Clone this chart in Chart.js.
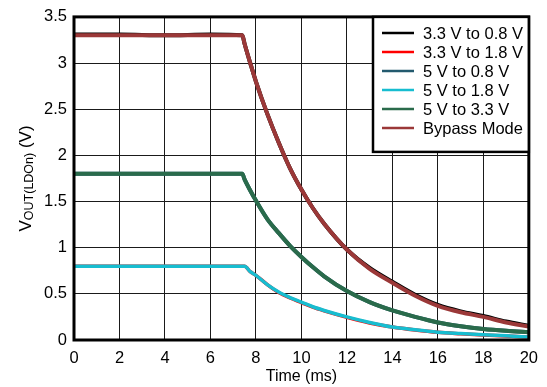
<!DOCTYPE html>
<html>
<head>
<meta charset="utf-8">
<script src="https://cdn.jsdelivr.net/npm/chart.js@4"></script>
<style>
  body { margin: 0; background: #fff; }
  #wrap { width: 547px; height: 387px; }
</style>
</head>
<body>
<div id="wrap"><canvas id="chart" width="547" height="387"></canvas></div>
<script>
// time axis (ms)
const timeMs = [0, 2, 4, 6, 7.4, 7.5, 7.75, 8, 8.5, 9, 9.5, 10, 10.5, 11, 12, 13, 14, 15, 16, 17, 18, 19, 20];

// VOUT readings (V), one list per legend entry
const v33to08 = [3.31, 3.31, 3.3, 3.31, 3.3, 3.21, 3.0, 2.8, 2.45, 2.14, 1.86, 1.63, 1.43, 1.26, 0.98, 0.78, 0.63, 0.49, 0.38, 0.31, 0.26, 0.2, 0.155];
const v33to18 = [0.8, 0.8, 0.8, 0.8, 0.8, 0.8, 0.74, 0.7, 0.6, 0.515, 0.455, 0.405, 0.355, 0.315, 0.245, 0.185, 0.14, 0.108, 0.083, 0.068, 0.055, 0.043, 0.03];
const v5to08 = [1.8, 1.8, 1.8, 1.8, 1.8, 1.74, 1.62, 1.51, 1.31, 1.16, 1.02, 0.9, 0.79, 0.69, 0.53, 0.41, 0.32, 0.25, 0.19, 0.15, 0.12, 0.1, 0.085];
const v5to18 = [0.8, 0.8, 0.8, 0.8, 0.8, 0.8, 0.74, 0.7, 0.6, 0.52, 0.46, 0.41, 0.36, 0.32, 0.25, 0.19, 0.14, 0.11, 0.085, 0.07, 0.057, 0.045, 0.032];
const v5to33 = [1.8, 1.8, 1.8, 1.8, 1.8, 1.74, 1.62, 1.51, 1.31, 1.16, 1.02, 0.9, 0.79, 0.69, 0.53, 0.41, 0.32, 0.25, 0.19, 0.15, 0.12, 0.1, 0.085];
const vBypass = [3.3, 3.3, 3.3, 3.3, 3.3, 3.21, 3.0, 2.8, 2.45, 2.14, 1.86, 1.63, 1.43, 1.26, 0.98, 0.77, 0.62, 0.48, 0.37, 0.3, 0.25, 0.19, 0.145];

const seriesNames = ['3.3 V to 0.8 V', '3.3 V to 1.8 V', '5 V to 0.8 V', '5 V to 1.8 V', '5 V to 3.3 V', 'Bypass Mode'];
const seriesData = [v33to08, v33to18, v5to08, v5to18, v5to33, vBypass];
const seriesColors = ['#000000', '#ff0000', '#235a6e', '#17bdd0', '#2a6b4b', '#9b3838'];
const seriesWidths = [4, 3.5, 4, 3.5, 4, 4];
const seriesOrder = [2, 2, 2, 1, 1, 1]; // higher is drawn below

const xTicks = [0, 2, 4, 6, 8, 10, 12, 14, 16, 18, 20];
const yTicks = [0, 0.5, 1, 1.5, 2, 2.5, 3, 3.5];

const FONT = 'Arial, "Liberation Sans", sans-serif';

// frame, legend box and axis titles
const decorations = {
  id: 'decorations',
  afterDatasetsDraw(chart) {
    const ctx = chart.ctx;
    const a = chart.chartArea;
    ctx.save();

    ctx.strokeStyle = '#000';
    ctx.lineWidth = 3;
    ctx.strokeRect(a.left, a.top, a.right - a.left, a.bottom - a.top);

    // legend box in the top right corner
    const lx = 373, ly = a.top, lw = a.right - 373, lh = 135;
    ctx.fillStyle = '#fff';
    ctx.fillRect(lx, ly, lw, lh);
    ctx.lineWidth = 2.5;
    ctx.strokeRect(lx, ly, lw, lh);

    ctx.font = '16.5px ' + FONT;
    ctx.textBaseline = 'middle';
    ctx.textAlign = 'left';
    seriesNames.forEach((name, i) => {
      const y = 33 + i * 19;
      ctx.strokeStyle = seriesColors[i];
      ctx.lineWidth = 2.5;
      ctx.beginPath();
      ctx.moveTo(382, y);
      ctx.lineTo(414, y);
      ctx.stroke();
      ctx.fillStyle = '#000';
      ctx.fillText(name, 423, y + 1);
    });

    // x title
    ctx.font = '16px ' + FONT;
    ctx.textAlign = 'center';
    ctx.textBaseline = 'middle';
    ctx.fillText('Time (ms)', (a.left + a.right) / 2, 377);

    // y title with subscript
    ctx.translate(31, (a.top + a.bottom) / 2);
    ctx.rotate(-Math.PI / 2);
    ctx.textAlign = 'left';
    ctx.textBaseline = 'alphabetic';
    ctx.font = '17px ' + FONT;
    const wV = ctx.measureText('V').width;
    const wUnit = ctx.measureText(' (V)').width;
    ctx.font = '12.5px ' + FONT;
    const wSub = ctx.measureText('OUT(LDOn)').width;
    let x = -(wV + wSub + wUnit) / 2;
    ctx.font = '17px ' + FONT;
    ctx.fillText('V', x, 0);
    x += wV;
    ctx.font = '12.5px ' + FONT;
    ctx.fillText('OUT(LDOn)', x, 2);
    x += wSub;
    ctx.font = '17px ' + FONT;
    ctx.fillText(' (V)', x, 0);

    ctx.restore();
  }
};

const datasets = seriesNames.map((name, i) => ({
  label: name,
  data: timeMs.map((t, j) => ({ x: t, y: seriesData[i][j] })),
  borderColor: seriesColors[i],
  backgroundColor: seriesColors[i],
  borderWidth: seriesWidths[i],
  pointRadius: 0,
  cubicInterpolationMode: 'monotone',
  order: seriesOrder[i]
}));

new Chart(document.getElementById('chart'), {
  type: 'line',
  data: { datasets },
  options: {
    responsive: false,
    animation: false,
    layout: { padding: { left: 0, top: 14, right: 16, bottom: 0 } },
    plugins: {
      legend: { display: false },
      tooltip: { enabled: false }
    },
    scales: {
      x: {
        type: 'linear',
        min: 0,
        max: 20,
        afterBuildTicks: (scale) => { scale.ticks = xTicks.map(v => ({ value: v })); },
        afterFit: (scale) => { scale.height = 47; },
        ticks: { color: '#000', font: { size: 16.5, family: FONT }, padding: 9, maxRotation: 0, callback: (v) => String(v) },
        grid: { color: '#1a1a1a', lineWidth: 1, drawTicks: false },
        border: { display: false }
      },
      y: {
        min: 0,
        max: 3.5,
        afterBuildTicks: (scale) => { scale.ticks = yTicks.map(v => ({ value: v })); },
        afterFit: (scale) => { scale.width = 74; },
        ticks: { color: '#000', font: { size: 16.5, family: FONT }, padding: 7, callback: (v) => String(v) },
        grid: { color: '#1a1a1a', lineWidth: 1, drawTicks: false },
        border: { display: false }
      }
    }
  },
  plugins: [decorations]
});
</script>
</body>
</html>
